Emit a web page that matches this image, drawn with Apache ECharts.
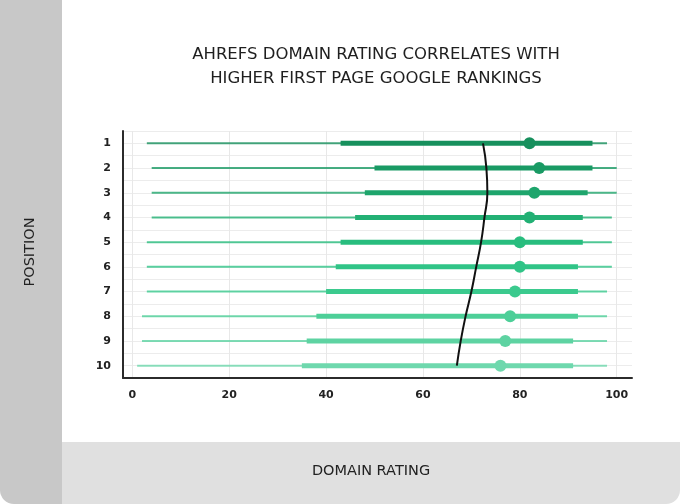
<!DOCTYPE html>
<html><head><meta charset="utf-8">
<script src="https://cdn.jsdelivr.net/npm/echarts@6/dist/echarts.min.js"></script>
<style>html,body{margin:0;padding:0;background:#fff}#c{width:680px;height:504px}</style>
</head><body><div id="c"></div>
<script>
// ---- data ----
const positions  = [1, 2, 3, 4, 5, 6, 7, 8, 9, 10];
const minVals    = [3, 4, 4, 4, 3, 3, 3, 2, 2, 1];
const q1Vals     = [43, 50, 48, 46, 43, 42, 40, 38, 36, 35];
const medianVals = [82, 84, 83, 82, 80, 80, 79, 78, 77, 76];
const q3Vals     = [95, 95, 94, 93, 93, 92, 92, 92, 91, 91];
const maxVals    = [98, 100, 100, 99, 99, 99, 98, 98, 98, 98];
const meanVals   = [72.4, 73.1, 73.3, 72.7, 72.0, 71.0, 70.0, 68.8, 67.8, 67.0];
const xTickMin = 0, xTickMax = 100, xTickStep = 20;
const titleText = 'AHREFS DOMAIN RATING CORRELATES WITH\nHIGHER FIRST PAGE GOOGLE RANKINGS';
const yName = 'POSITION';
const xName = 'DOMAIN RATING';

// ---- styles ----
const rowColors = ['#17905d', '#199a64', '#1ea56c', '#22b074', '#28bd7e', '#30c487', '#3bca8e', '#4dcf98', '#5ed3a2', '#6ed8ad'];
const FONT = 'DejaVu Sans';

const boxData = positions.map((p, i) => [p, minVals[i], q1Vals[i], medianVals[i], q3Vals[i], maxVals[i]]);
const meanData = positions.map((p, i) => [meanVals[i], p]);

const chart = echarts.init(document.getElementById('c'), null, {renderer: 'canvas'});
chart.setOption({
  backgroundColor: '#ffffff',
  animation: false,
  title: {
    text: titleText,
    left: 371, top: 38, textAlign: 'center',
    textStyle: {fontFamily: FONT, fontSize: 16.5, fontWeight: 'normal', color: '#1f1f1f', lineHeight: 24}
  },
  graphic: [
    {type: 'rect', left: 0, top: 0, shape: {width: 62, height: 504, r: [0, 0, 0, 14]}, style: {fill: '#c8c8c8'}, z: -10},
    {type: 'rect', left: 62, top: 442, shape: {width: 618, height: 62, r: [0, 0, 14, 0]}, style: {fill: '#e0e0e0'}, z: -10},
    {type: 'text', x: 30, y: 252, rotation: Math.PI / 2, style: {text: yName, fontFamily: FONT, fontSize: 14.5, fill: '#222', textAlign: 'center', textVerticalAlign: 'middle'}},
    {type: 'text', x: 371, y: 471, style: {text: xName, fontFamily: FONT, fontSize: 14.5, fill: '#222', textAlign: 'center', textVerticalAlign: 'middle'}}
  ],
  grid: [
    {left: 123, right: 48, top: 131, bottom: 126},
    {left: 132.3, right: 63.3, top: 131, bottom: 126}
  ],
  xAxis: [
    {gridIndex: 0, type: 'value', min: -2, max: 103,
     axisLine: {show: true, lineStyle: {color: '#2b2b2b', width: 2}},
     axisTick: {show: false}, axisLabel: {show: false}, splitLine: {show: false}},
    {gridIndex: 1, type: 'value', min: xTickMin, max: xTickMax, interval: xTickStep,
     axisLine: {show: false}, axisTick: {show: false},
     axisLabel: {margin: 12, fontFamily: FONT, fontSize: 11, fontWeight: 'bold', color: '#222'},
     splitLine: {show: true, lineStyle: {color: '#e8e8e8', width: 1}}}
  ],
  yAxis: [
    {gridIndex: 0, type: 'value', inverse: true, min: 0.5, max: 10.5, interval: 0.5,
     axisLine: {show: true, onZero: false, lineStyle: {color: '#2b2b2b', width: 2}},
     axisTick: {show: false},
     axisLabel: {margin: 12, fontFamily: FONT, fontSize: 11, fontWeight: 'bold', color: '#222',
       formatter: v => (Math.abs(v - Math.round(v)) < 1e-6 ? String(Math.round(v)) : '')},
     splitLine: {show: true, lineStyle: {color: '#ececec', width: 1}}},
    {gridIndex: 1, type: 'value', inverse: true, min: 0.5, max: 10.5, interval: 0.5, show: false}
  ],
  series: [
    {
      type: 'custom', xAxisIndex: 1, yAxisIndex: 1, data: boxData,
      encode: {x: [1, 2, 3, 4, 5], y: 0}, z: 3,
      renderItem(params, api) {
        const y = api.value(0);
        const a = api.coord([api.value(1), y]);
        const b = api.coord([api.value(2), y]);
        const m = api.coord([api.value(3), y]);
        const d = api.coord([api.value(4), y]);
        const e = api.coord([api.value(5), y]);
        const c = rowColors[params.dataIndex];
        return {type: 'group', children: [
          {type: 'line', shape: {x1: a[0], y1: a[1], x2: e[0], y2: e[1]}, style: {stroke: c, lineWidth: 2, opacity: 0.8}},
          {type: 'line', shape: {x1: b[0], y1: b[1], x2: d[0], y2: d[1]}, style: {stroke: c, lineWidth: 5}},
          {type: 'circle', shape: {cx: m[0], cy: m[1], r: 6}, style: {fill: c}}
        ]};
      }
    },
    {
      type: 'line', xAxisIndex: 1, yAxisIndex: 1, data: meanData, smooth: 0.5,
      symbol: 'none', z: 5,
      lineStyle: {color: '#111', width: 2}
    }
  ]
});
</script></body></html>
